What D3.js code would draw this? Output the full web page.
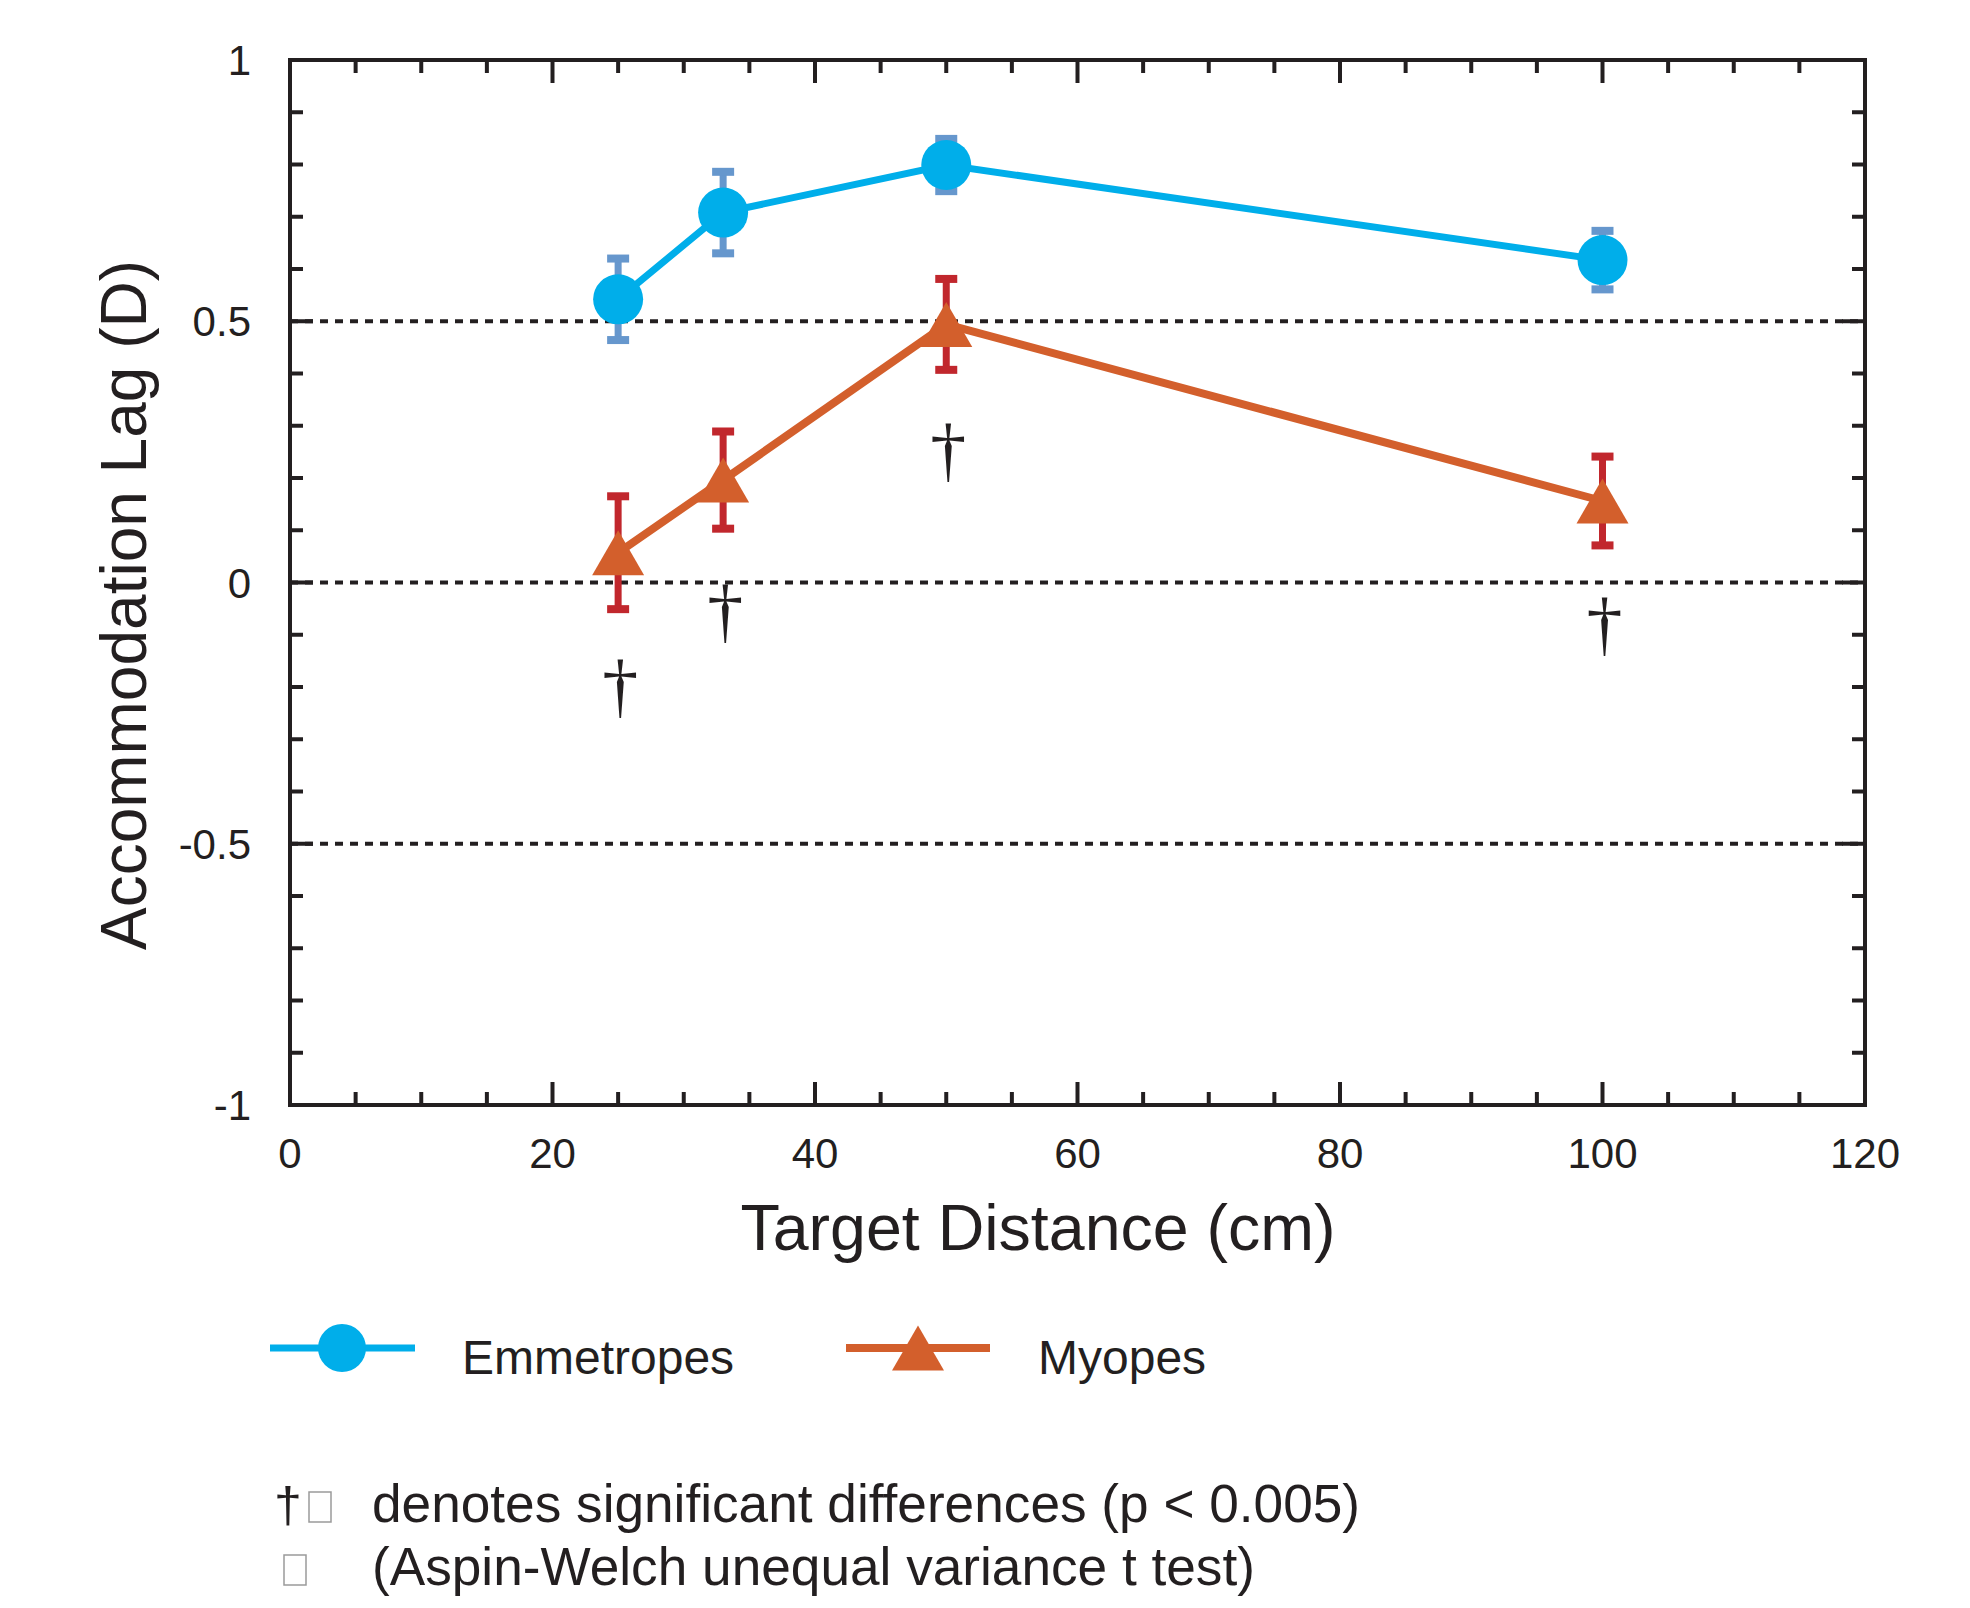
<!DOCTYPE html>
<html>
<head>
<meta charset="utf-8">
<script src="https://cdn.jsdelivr.net/npm/d3@7"></script>
<style>
  body { margin: 0; background: #fff; }
  text { font-family: "Liberation Sans", Arial, sans-serif; fill: #231f20; }
</style>
</head>
<body>
<svg id="chart" width="1970" height="1608"></svg>
<script>
// data
var distances = [25, 33, 50, 100];
var emmMean = [0.542, 0.708, 0.799, 0.617];
var emmErr = [0.078, 0.078, 0.05, 0.056];
var myoMean = [0.057, 0.196, 0.494, 0.156];
var myoErr = [0.108, 0.093, 0.087, 0.085];
var daggerAt = [-0.205, -0.063, 0.245, -0.087];
var xTicks = [0, 20, 40, 60, 80, 100, 120];
var yTicks = [1, 0.5, 0, -0.5, -1];
var yTickLabels = ["1", "0.5", "0", "-0.5", "-1"];
var seriesNames = ["Emmetropes", "Myopes"];

var svg = d3.select("#chart");
var x = d3.scaleLinear().domain([0, 120]).range([290, 1865]);
var y = d3.scaleLinear().domain([-1, 1]).range([1105, 60]);

var cyan = "#00aeea", blueErr = "#6697cd";
var orange = "#d35f2c", redErr = "#c1272d";
var ink = "#231f20";

// dashed reference lines
svg.append("g").selectAll("line").data(yTicks).join("line")
  .attr("x1", x(0)).attr("x2", x(120))
  .attr("y1", function(d) { return y(d); }).attr("y2", function(d) { return y(d); })
  .attr("stroke", ink).attr("stroke-width", 3.8).attr("stroke-dasharray", "8,7");

// ticks, pointing inward on all four sides
var minorX = d3.range(0, 121, 5), minorY = d3.range(-10, 11).map(function(d) { return d / 10; });
var ticks = svg.append("g").attr("stroke", ink).attr("stroke-width", 4);
minorX.forEach(function(v) {
  var len = (v % 20 === 0) ? 23 : 13;
  ticks.append("line").attr("x1", x(v)).attr("x2", x(v)).attr("y1", y(-1)).attr("y2", y(-1) - len);
  ticks.append("line").attr("x1", x(v)).attr("x2", x(v)).attr("y1", y(1)).attr("y2", y(1) + len);
});
minorY.forEach(function(v) {
  var len = (Math.abs(v * 10) % 5 === 0) ? 23 : 13;
  ticks.append("line").attr("x1", x(0)).attr("x2", x(0) + len).attr("y1", y(v)).attr("y2", y(v));
  ticks.append("line").attr("x1", x(120)).attr("x2", x(120) - len).attr("y1", y(v)).attr("y2", y(v));
});

// frame
svg.append("rect")
  .attr("x", x(0)).attr("y", y(1))
  .attr("width", x(120) - x(0)).attr("height", y(-1) - y(1))
  .attr("fill", "none").attr("stroke", ink).attr("stroke-width", 4);

// tick labels
svg.append("g").selectAll("text").data(xTicks).join("text")
  .attr("x", function(d) { return x(d); }).attr("y", 1168)
  .attr("text-anchor", "middle").attr("font-size", 42)
  .text(function(d) { return d; });
svg.append("g").selectAll("text").data(yTicks).join("text")
  .attr("x", 251).attr("y", function(d) { return y(d) + 15; })
  .attr("text-anchor", "end").attr("font-size", 42)
  .text(function(d, i) { return yTickLabels[i]; });

// axis titles
svg.append("text")
  .attr("transform", "translate(146,605) rotate(-90)")
  .attr("text-anchor", "middle").attr("font-size", 64)
  .text("Accommodation Lag (D)");
svg.append("text")
  .attr("x", 1038).attr("y", 1250)
  .attr("text-anchor", "middle").attr("font-size", 64.5)
  .text("Target Distance (cm)");

function errorBars(means, errs, color) {
  var g = svg.append("g").attr("fill", color);
  distances.forEach(function(d, i) {
    var top = y(means[i] + errs[i]), bot = y(means[i] - errs[i]);
    g.append("rect").attr("x", x(d) - 3.5).attr("y", top).attr("width", 7).attr("height", bot - top);
    g.append("rect").attr("x", x(d) - 11).attr("y", top - 4).attr("width", 22).attr("height", 8);
    g.append("rect").attr("x", x(d) - 11).attr("y", bot - 4).attr("width", 22).attr("height", 8);
  });
}
errorBars(emmMean, emmErr, blueErr);
errorBars(myoMean, myoErr, redErr);

var line = d3.line()
  .x(function(d) { return x(d[0]); })
  .y(function(d) { return y(d[1]); });

svg.append("path").datum(d3.zip(distances, emmMean))
  .attr("d", line).attr("fill", "none").attr("stroke", cyan).attr("stroke-width", 7);
svg.append("path").datum(d3.zip(distances, myoMean))
  .attr("d", line).attr("fill", "none").attr("stroke", orange).attr("stroke-width", 8);

var tri = "M0,-22.5L26,22.5L-26,22.5Z";

svg.append("g").selectAll("circle").data(d3.zip(distances, emmMean)).join("circle")
  .attr("cx", function(d) { return x(d[0]); }).attr("cy", function(d) { return y(d[1]); })
  .attr("r", 25).attr("fill", cyan);
svg.append("g").selectAll("path").data(d3.zip(distances, myoMean)).join("path")
  .attr("d", tri)
  .attr("transform", function(d) { return "translate(" + x(d[0]) + "," + y(d[1]) + ")"; })
  .attr("fill", orange);

// significance daggers
svg.append("g").selectAll("text").data(d3.zip(distances, daggerAt)).join("text")
  .attr("x", function(d) { return x(d[0]) + 2; })
  .attr("y", function(d) { return y(d[1]) + 20; })
  .attr("text-anchor", "middle")
  .style("font-family", "'Liberation Serif', serif").attr("font-size", 72)
  .text("\u2020");

// legend
var legend = svg.append("g");
legend.append("line").attr("x1", 270).attr("x2", 415).attr("y1", 1348).attr("y2", 1348)
  .attr("stroke", cyan).attr("stroke-width", 7);
legend.append("circle").attr("cx", 342).attr("cy", 1348).attr("r", 24).attr("fill", cyan);
legend.append("text").attr("x", 462).attr("y", 1374).attr("font-size", 48).text(seriesNames[0]);
legend.append("line").attr("x1", 846).attr("x2", 990).attr("y1", 1348).attr("y2", 1348)
  .attr("stroke", orange).attr("stroke-width", 8);
legend.append("path").attr("d", tri).attr("transform", "translate(918,1348)").attr("fill", orange);
legend.append("text").attr("x", 1038).attr("y", 1374).attr("font-size", 48).text(seriesNames[1]);

// footnote
var note = svg.append("g");
note.append("text").attr("x", 288).attr("y", 1522).attr("text-anchor", "middle")
  .attr("font-size", 50).text("\u2020");
note.append("rect").attr("x", 309).attr("y", 1492).attr("width", 22).attr("height", 30)
  .attr("fill", "none").attr("stroke", "#9a9a9a").attr("stroke-width", 1.5);
note.append("rect").attr("x", 284).attr("y", 1555).attr("width", 22).attr("height", 30)
  .attr("fill", "none").attr("stroke", "#9a9a9a").attr("stroke-width", 1.5);
note.append("text").attr("x", 372).attr("y", 1522).attr("font-size", 53.2)
  .text("denotes significant differences (p < 0.005)");
note.append("text").attr("x", 372).attr("y", 1585).attr("font-size", 53.2)
  .text("(Aspin-Welch unequal variance t test)");
</script>
</body>
</html>
